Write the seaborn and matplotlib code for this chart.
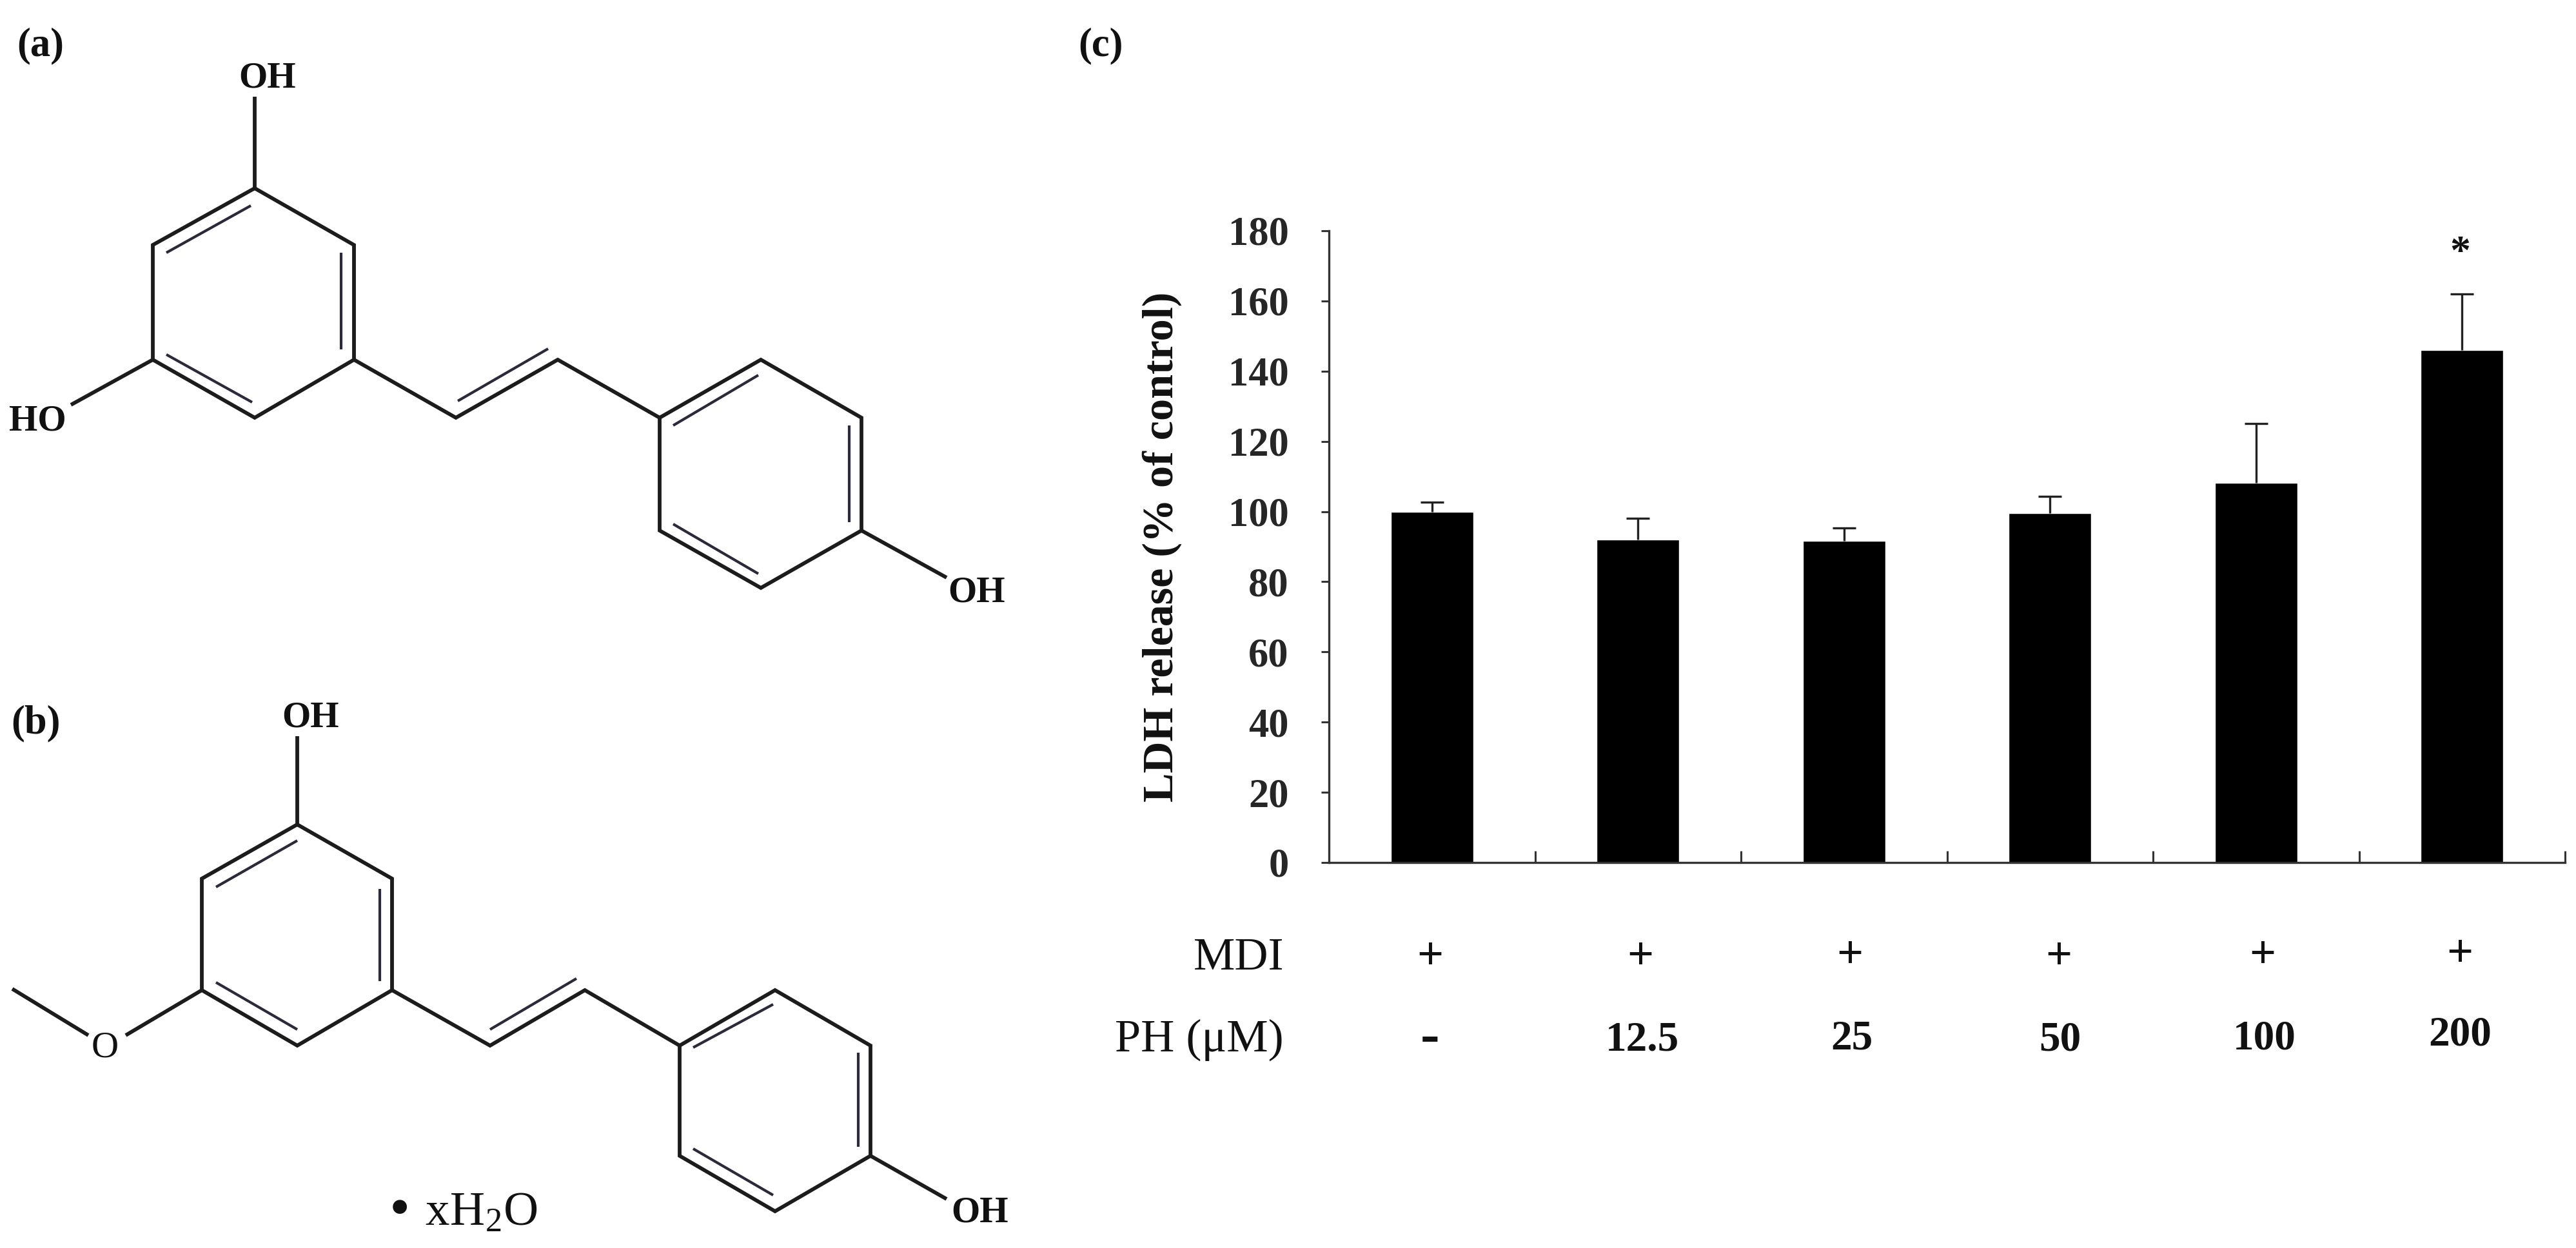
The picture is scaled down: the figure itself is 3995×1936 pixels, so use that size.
import matplotlib
matplotlib.use('Agg')
import matplotlib.pyplot as plt
import pandas as pd
import seaborn as sns

# _________ DATA ___________
ph_doses = ['-', '12.5', '25', '50', '100', '200']
mdi_flags = ['+', '+', '+', '+', '+', '+']
ldh_release = [100, 92.1, 91.6, 99.6, 108.1, 146]
ldh_err_top = [102.7, 98, 95.3, 104.3, 125, 162]
y_ticks = [0, 20, 40, 60, 80, 100, 120, 140, 160, 180]

# Structures, traced in image pixels
mol_a_chains = [
    [(395, 292), (549, 380), (549, 558), (395, 648), (237, 558), (237, 380), (395, 292)],
    [(395, 150), (395, 292)],
    [(237, 558), (110, 628)],
    [(549, 558), (707, 648), (865, 558), (1023, 648)],
    [(1023, 648), (1180, 558), (1336, 648), (1336, 823), (1180, 912), (1023, 823), (1023, 648)],
    [(1336, 823), (1468, 896)],
]
mol_a_inner = [
    [(258, 392), (389, 319)],
    [(529, 392), (529, 542)],
    [(258, 550), (391, 624)],
    [(710, 622), (850, 541)],
    [(1044, 660), (1176, 582)],
    [(1317, 660), (1317, 810)],
    [(1044, 813), (1176, 890)],
]
mol_b_chains = [
    [(461, 1279), (608, 1363), (608, 1536), (461, 1622), (313, 1536), (313, 1363), (461, 1279)],
    [(461, 1142), (461, 1279)],
    [(313, 1536), (195, 1606)],
    [(137, 1606), (19, 1534)],
    [(608, 1536), (760, 1622), (907, 1536), (1054, 1622)],
    [(1054, 1622), (1202, 1536), (1350, 1622), (1350, 1793), (1202, 1879), (1054, 1793), (1054, 1622)],
    [(1350, 1793), (1468, 1860)],
]
mol_b_inner = [
    [(335, 1376), (461, 1304)],
    [(589, 1379), (589, 1522)],
    [(335, 1524), (461, 1597)],
    [(760, 1597), (894, 1518)],
    [(1075, 1625), (1199, 1558)],
    [(1331, 1633), (1331, 1779)],
    [(1075, 1782), (1199, 1854)],
]

sns.set_style('white')
plt.rcParams['font.family'] = ['Liberation Serif', 'DejaVu Sans']
plt.rcParams['mathtext.default'] = 'regular'

W, H = 3995, 1936
fig = plt.figure(figsize=(W / 100, H / 100), dpi=100, facecolor='white')

# _________ BAR CHART ___________
ax = fig.add_axes([2061 / W, 1 - 1338 / H, (3978 - 2061) / W, 980 / H])
ldh_df = pd.DataFrame({'dose': ph_doses, 'ldh': ldh_release, 'top': ldh_err_top})
sns.barplot(data=ldh_df, x='dose', y='ldh', color='black', saturation=1, width=0.4,
            errorbar=None, ax=ax)
# upper error only, no cap on the bar itself
bar_pos = range(len(ph_doses))
ax.vlines(bar_pos, ldh_df['ldh'], ldh_df['top'], color='#222222', lw=2.4)
ax.plot(bar_pos, ldh_df['top'], ls='none', marker='_', ms=26, mew=2.4, color='#222222')
ax.set_xlim(-0.5, 5.5)
ax.set_ylim(0, 180)
ax.set_xticks([0.5, 1.5, 2.5, 3.5, 4.5, 5.5])
ax.set_xticklabels([])
ax.set_yticks(y_ticks)
ax.set_xlabel('')
ax.set_ylabel('')
ax.set_facecolor('none')
ax.tick_params(axis='y', direction='out', length=9, width=2.2, color='#333333', pad=36,
               labelsize=45, left=True)
ax.tick_params(axis='x', direction='in', length=13, width=2.2, color='#333333', bottom=True)
for label in ax.get_yticklabels():
    label.set_fontweight('bold')
sns.despine(ax=ax)
for side in ['left', 'bottom']:
    ax.spines[side].set_linewidth(2.4)
    ax.spines[side].set_color('#333333')

# _________ OVERLAY (pixel space) ___________
ov = fig.add_axes([0, 0, 1, 1])
ov.set_xlim(0, W)
ov.set_ylim(H, 0)
ov.axis('off')
ov.patch.set_alpha(0)

for chains, inner in [(mol_a_chains, mol_a_inner), (mol_b_chains, mol_b_inner)]:
    for chain in chains:
        xs, ys = zip(*chain)
        ov.plot(xs, ys, color='#1c1c1c', lw=4.2, solid_joinstyle='miter', solid_capstyle='butt')
    for seg in inner:
        xs, ys = zip(*seg)
        ov.plot(xs, ys, color='#2a2a3a', lw=3, solid_capstyle='butt')


def label(x, y, s, size=41, weight='bold', ha='center', **kw):
    ov.text(x, y, s, fontsize=size, fontweight=weight, ha=ha, va='center', color='#111111', **kw)


label(63, 71, '(a)', size=45)
label(55, 1122, '(b)', size=45)
label(1707, 71, '(c)', size=45)
label(415, 121, 'OH')
label(58, 654, 'HO')
label(1515, 919, 'OH')
label(482, 1113, 'OH')
label(163, 1626, 'O', weight='normal', size=42)
label(1520, 1882, 'OH')
label(715, 1883, '• xH$_2$O', size=54, weight='normal')

label(1802, 848, 'LDH release (% of control)', size=49, rotation=90)

plus_x = [2218, 2544, 2869, 3193, 3509, 3815]
plus_y = [1486, 1486, 1483, 1486, 1483, 1481]
dose_x = [2218, 2547, 2872, 3195, 3512, 3815]
dose_y = [1611, 1613, 1611, 1613, 1611, 1606]
label(1991, 1486, 'MDI', size=52, weight='normal', ha='right')
label(1991, 1613, 'PH (μM)', size=52, weight='normal', ha='right')
for x, y, s in zip(plus_x, plus_y, mdi_flags):
    label(x, y, s, size=52)
for x, y, s in zip(dose_x, dose_y, ph_doses):
    label(x, y, s, size=64 if s == '-' else 47)
label(3815, 394, '*', size=46)

plt.savefig('out.png', dpi=100)
plt.close()
